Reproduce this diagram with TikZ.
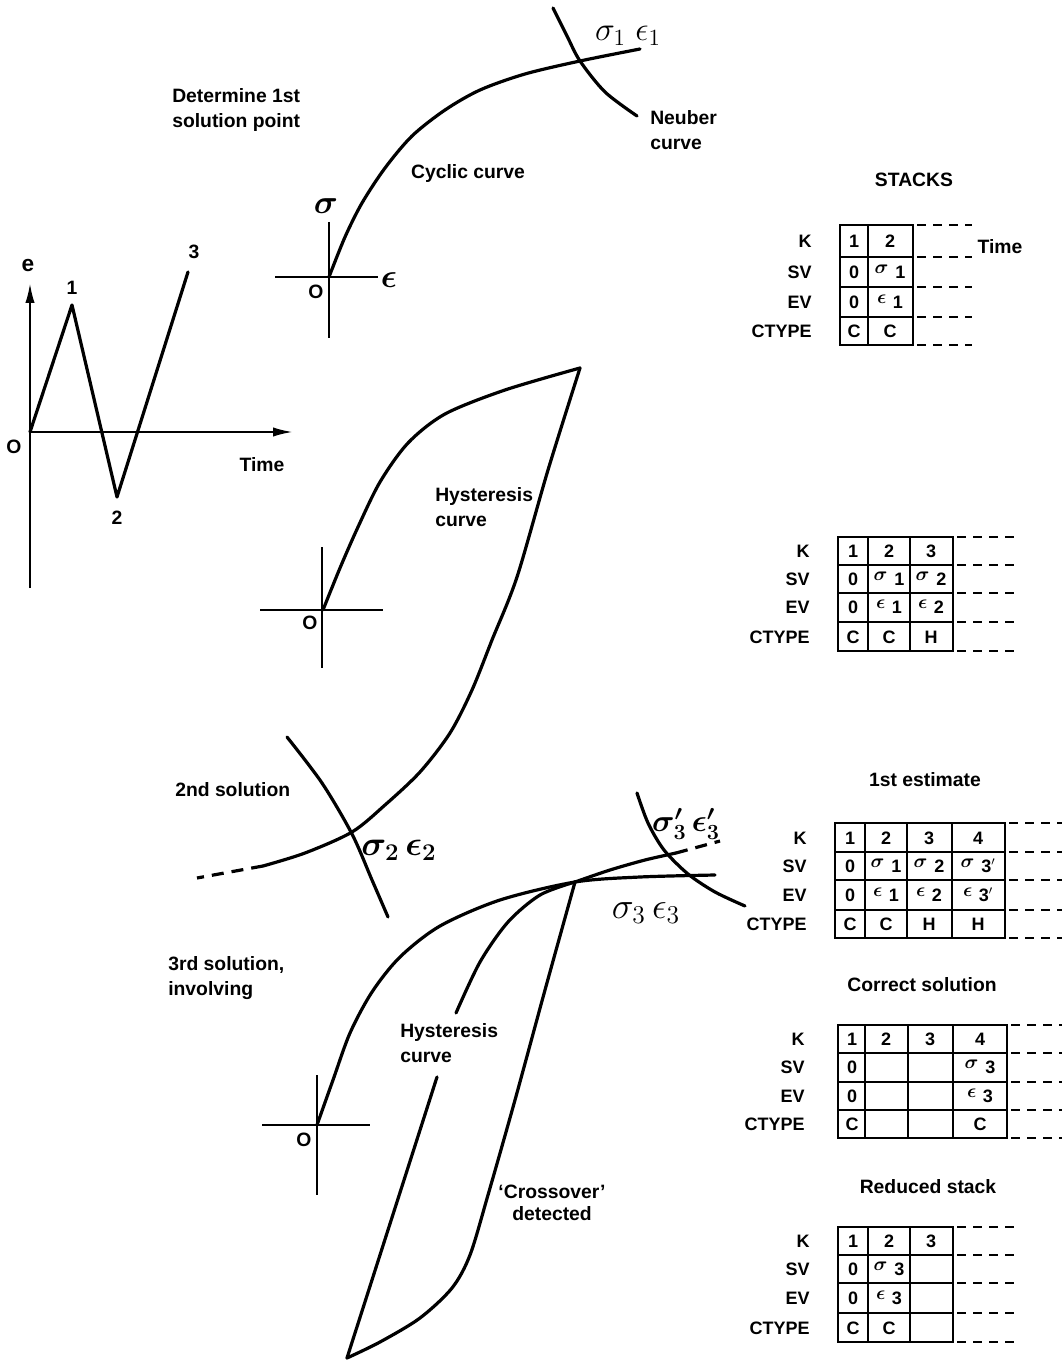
\documentclass[tikz,border=0pt]{standalone}
\usepackage{bm}
\usepackage{fontspec}
\setmainfont{Liberation Sans}
\usetikzlibrary{arrows.meta}
\newcommand\mysig[1]{\raisebox{4pt}{\fontsize{14.4}{14}\selectfont$\bm{\sigma}$}\hspace{5pt}#1}
\newcommand\myeps[1]{\raisebox{4pt}{\fontsize{14.4}{14}\selectfont$\bm{\epsilon}$}\hspace{5pt}#1}
\newcommand\gk[2]{\scalebox{#1}{#2}}
\tikzset{
  crv/.style={line width=2.4pt, line cap=round, line join=round},
  axl/.style={line width=1.7pt},
  dsh/.style={line width=2.4pt, dash pattern=on 9pt off 6pt},
  tbl/.style={line width=1.6pt},
  tdsh/.style={line width=1.4pt, dash pattern=on 7pt off 5pt},
  lab/.style={font=\fontsize{14.5}{18.5}\selectfont\bfseries, align=left, inner sep=0pt},
  glab/.style={font=\fontsize{17.28}{21}\selectfont, inner sep=0pt},
  tlab/.style={font=\fontsize{13.5}{15}\selectfont\bfseries, inner sep=0pt},
  cell/.style={font=\fontsize{13.5}{15}\selectfont\bfseries, inner sep=0pt},
}
\begin{document}
\begin{tikzpicture}[x=0.75pt,y=-0.75pt]
\useasboundingbox (0,0) rectangle (1062,1362);

% ---------------- strain-time graph ----------------
\coordinate (g0) at (30,432);
\coordinate (gtop) at (30,283);
\coordinate (gbot) at (30,588);
\coordinate (gright) at (293,432);
\draw[axl,-{Latex[length=15pt,width=7pt]}] (gbot) -- (gtop);
\draw[axl,-{Latex[length=15pt,width=7pt]}] (g0) -- (gright);
\coordinate (p1) at (72,305);
\coordinate (p2) at (117,497);
\coordinate (p3) at (188,272);
\draw[crv] (g0) -- (p1) -- (p2) -- (p3);
\node[lab,font=\fontsize{17}{19}\selectfont\bfseries] (le) at (28,266) {e};
\node[lab] (lO0) at (14,447) {O};
\node[lab] (l1) at (72,288) {1};
\node[lab] (l2) at (117,518) {2};
\node[lab] (l3) at (194,252) {3};
\node[lab] (ltime) at (262,465) {Time};

% ---------------- top: cyclic curve ----------------
\node[lab,anchor=west] (det) at (172,110) {Determine 1st\\solution point};
\coordinate (o1) at (329,277);
\draw[axl] (275,277) -- (378,277);
\draw[axl] (329,222) -- (329,338);
\draw[crv] plot[smooth] coordinates {(329,277) (345,237) (362,203) (385,168) (412,136) (445,110) (480,90) (525,74) (580,61) (640,49)};
\draw[crv] plot[smooth] coordinates {(553,8) (567,36) (580,61) (605,92) (637,116)};
\node[glab] (s1e1) at (628,36) {\gk{1.45}{$\sigma_1\;\epsilon_1$}};
\node[lab,anchor=west] (neub) at (650,130) {Neuber\\curve};
\node[lab] (cyc) at (468,174) {Cyclic curve};
\node[glab] (sax) at (326,206) {\gk{1.45}{$\bm{\sigma}$}};
\node[glab] (eax) at (389,280) {\gk{1.45}{$\bm{\epsilon}$}};
\node[lab] (lO1) at (316,292) {O};

% ---------------- middle: hysteresis ----------------
\draw[axl] (260,610) -- (383,610);
\draw[axl] (322,547) -- (322,668);
\node[lab] (lO2) at (310,623) {O};
\draw[crv] plot[smooth] coordinates {(323,610) (340,568) (358,527) (380,482) (408,443) (445,414) (505,390) (580,368)};
\draw[crv] plot[smooth] coordinates {(580,368) (548,470) (517,577) (492,640) (472,690) (450,733) (420,772) (385,805) (352,832) (305,853) (263,866)};
\draw[dsh] plot[smooth] coordinates {(263,866) (230,872) (197,878)};
\node[lab,anchor=west] (hyst1) at (435,507) {Hysteresis\\curve};
\draw[crv] plot[smooth] coordinates {(287,737) (322,783) (352,834) (372,880) (388,917)};
\node[lab,anchor=west] (sol2) at (175,790) {2nd solution};
\node[glab] (s2e2) at (399,850) {\gk{1.5}{$\bm{\sigma_2\,\epsilon_2}$}};

% ---------------- lower: third solution ----------------
\coordinate (P) at (575,882);
\draw[axl] (262,1125) -- (370,1125);
\draw[axl] (317,1075) -- (317,1195);
\node[lab] (lO3) at (304,1140) {O};
\draw[crv] plot[smooth] coordinates {(317,1125) (333,1080) (350,1033) (372,992) (400,957) (440,926) (500,900) (575,882) (640,877) (715,875)};
\draw[crv] plot[smooth] coordinates {(575,882) (610,870) (645,860) (676,853)};
\draw[dsh] plot[smooth] coordinates {(676,853) (698,847) (720,841)};
\draw[crv] plot[smooth] coordinates {(637,793) (648,823) (664,850) (688,874) (715,892) (745,906)};
\node[glab] (s3pe3p) at (686,824) {\gk{1.35}{$\bm{\sigma'_3\,\epsilon'_3}$}};
\node[glab] (s3e3) at (646,913) {\gk{1.6}{$\sigma_3\,\epsilon_3$}};
\draw[crv] plot[smooth] coordinates {(575,882) (540,895) (508,922) (480,962) (456,1013)};
\coordinate (hb) at (347,1358);
\draw[crv] (437,1077) -- (hb);
\draw[crv] plot[smooth] coordinates {(575,882) (545,990) (515,1100) (488,1195) (470,1255) (452,1288) (420,1318) (380,1342) (347,1358)};
\node[lab,anchor=west] (sol3) at (168,978) {3rd solution,\\involving};
\node[lab,anchor=west] (hyst2) at (400,1043) {Hysteresis\\curve};
\node[lab,align=center,font=\fontsize{14.5}{16.5}\selectfont\bfseries] (cross) at (552,1203) {`Crossover'\\detected};

% ---------------- stacks ----------------
\node[lab] (stk) at (914,180) {STACKS};
\node[lab] (est) at (925,780) {1st estimate};
\node[lab] (corr) at (922,985) {Correct solution};
\node[lab] (red) at (928,1187) {Reduced stack};

% table 1
\draw[tbl] (840,225) rectangle (913,345);
\foreach \y in {257,287,317} \draw[tbl] (840,\y) -- (913,\y);
\draw[tbl] (868,225) -- (868,345);
\foreach \y in {225,257,287,317,345} \draw[tdsh] (917,\y) -- (972,\y);
\node[lab] (time1) at (1000,247) {Time};
\foreach \t/\y [count=\i] in {K/241,SV/272,EV/302,CTYPE/331} \node[tlab,anchor=east] (ra\i) at (812,\y) {\t};
\node[cell] (a11) at (854,241) {1};
\node[cell] (a12) at (890,241) {2};
\node[cell] (a21) at (854,272) {0};
\node[cell] (a22) at (890,272) {\mysig{1}};
\node[cell] (a31) at (854,302) {0};
\node[cell] (a32) at (890,302) {\myeps{1}};
\node[cell] (a41) at (854,331) {C};
\node[cell] (a42) at (890,331) {C};

% table 2
\draw[tbl] (838,537) rectangle (953,651);
\foreach \y in {565,593,622} \draw[tbl] (838,\y) -- (953,\y);
\foreach \x in {868,910} \draw[tbl] (\x,537) -- (\x,651);
\foreach \y in {537,565,593,622,651} \draw[tdsh] (957,\y) -- (1015,\y);
\foreach \t/\y [count=\i] in {K/551,SV/579,EV/607,CTYPE/637} \node[tlab,anchor=east] (rb\i) at (810,\y) {\t};
\node[cell] (b11) at (853,551) {1};
\node[cell] (b12) at (889,551) {2};
\node[cell] (b13) at (931,551) {3};
\node[cell] (b21) at (853,579) {0};
\node[cell] (b22) at (889,579) {\mysig{1}};
\node[cell] (b23) at (931,579) {\mysig{2}};
\node[cell] (b31) at (853,607) {0};
\node[cell] (b32) at (889,607) {\myeps{1}};
\node[cell] (b33) at (931,607) {\myeps{2}};
\node[cell] (b41) at (853,637) {C};
\node[cell] (b42) at (889,637) {C};
\node[cell] (b43) at (931,637) {H};

% table 3
\draw[tbl] (835,823) rectangle (1005,938);
\foreach \y in {852,880,910} \draw[tbl] (835,\y) -- (1005,\y);
\foreach \x in {865,907,952} \draw[tbl] (\x,823) -- (\x,938);
\foreach \y in {823,852,880,910,938} \draw[tdsh] (1009,\y) -- (1062,\y);
\foreach \t/\y [count=\i] in {K/838,SV/866,EV/895,CTYPE/924} \node[tlab,anchor=east] (rc\i) at (807,\y) {\t};
\node[cell] (c11) at (850,838) {1};
\node[cell] (c12) at (886,838) {2};
\node[cell] (c13) at (929,838) {3};
\node[cell] (c14) at (978,838) {4};
\node[cell] (c21) at (850,866) {0};
\node[cell] (c22) at (886,866) {\mysig{1}};
\node[cell] (c23) at (929,866) {\mysig{2}};
\node[cell] (c24) at (978,866) {\mysig{3$'$}};
\node[cell] (c31) at (850,895) {0};
\node[cell] (c32) at (886,895) {\myeps{1}};
\node[cell] (c33) at (929,895) {\myeps{2}};
\node[cell] (c34) at (978,895) {\myeps{3$'$}};
\node[cell] (c41) at (850,924) {C};
\node[cell] (c42) at (886,924) {C};
\node[cell] (c43) at (929,924) {H};
\node[cell] (c44) at (978,924) {H};

% table 4
\draw[tbl] (838,1025) rectangle (1007,1138);
\foreach \y in {1053,1082,1110} \draw[tbl] (838,\y) -- (1007,\y);
\foreach \x in {865,908,953} \draw[tbl] (\x,1025) -- (\x,1138);
\foreach \y in {1025,1053,1082,1110,1138} \draw[tdsh] (1011,\y) -- (1062,\y);
\foreach \t/\y [count=\i] in {K/1039,SV/1067,EV/1096,CTYPE/1124} \node[tlab,anchor=east] (rd\i) at (805,\y) {\t};
\node[cell] (d11) at (852,1039) {1};
\node[cell] (d12) at (886,1039) {2};
\node[cell] (d13) at (930,1039) {3};
\node[cell] (d14) at (980,1039) {4};
\node[cell] (d21) at (852,1067) {0};
\node[cell] (d24) at (980,1067) {\mysig{3}};
\node[cell] (d31) at (852,1096) {0};
\node[cell] (d34) at (980,1096) {\myeps{3}};
\node[cell] (d41) at (852,1124) {C};
\node[cell] (d44) at (980,1124) {C};

% table 5
\draw[tbl] (838,1227) rectangle (953,1342);
\foreach \y in {1255,1283,1313} \draw[tbl] (838,\y) -- (953,\y);
\foreach \x in {868,910} \draw[tbl] (\x,1227) -- (\x,1342);
\foreach \y in {1227,1255,1283,1313,1342} \draw[tdsh] (957,\y) -- (1015,\y);
\foreach \t/\y [count=\i] in {K/1241,SV/1269,EV/1298,CTYPE/1328} \node[tlab,anchor=east] (re\i) at (810,\y) {\t};
\node[cell] (e11) at (853,1241) {1};
\node[cell] (e12) at (889,1241) {2};
\node[cell] (e13) at (931,1241) {3};
\node[cell] (e21) at (853,1269) {0};
\node[cell] (e22) at (889,1269) {\mysig{3}};
\node[cell] (e31) at (853,1298) {0};
\node[cell] (e32) at (889,1298) {\myeps{3}};
\node[cell] (e41) at (853,1328) {C};
\node[cell] (e42) at (889,1328) {C};
\end{tikzpicture}
\end{document}
